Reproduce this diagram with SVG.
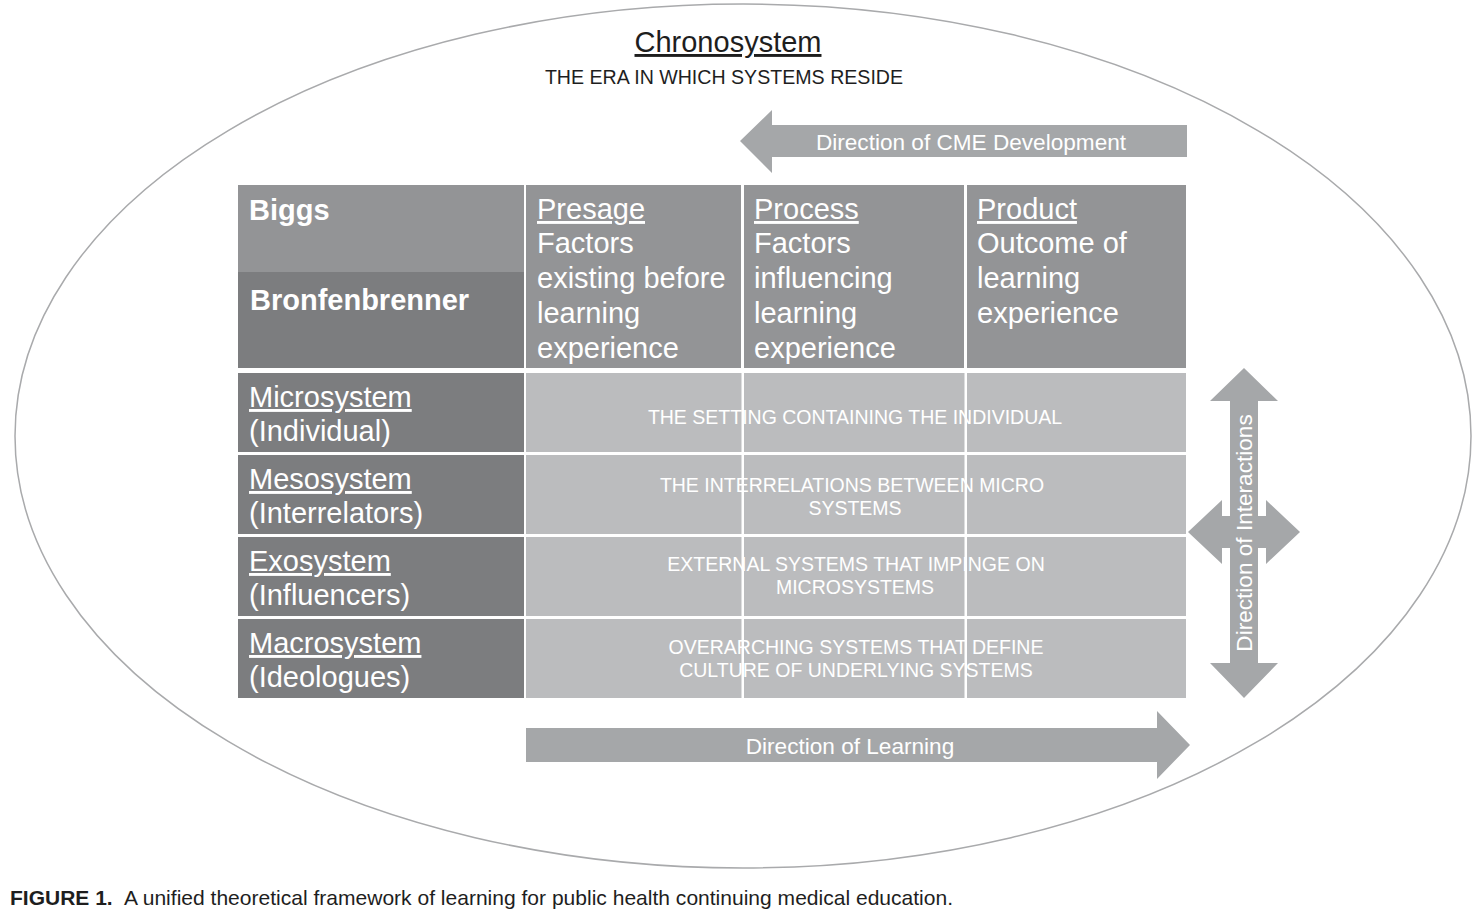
<svg xmlns="http://www.w3.org/2000/svg" width="1480" height="913" viewBox="0 0 1480 913">
<style>
text{font-family:"Liberation Sans",Arial,sans-serif;}
.hd{fill:#939496;}
.dk{fill:#7c7d7f;}
.lt{fill:#bbbcbe;}
.arr{fill:#a5a7a9;}
.w{fill:#ffffff;}
.big{font-size:29px;fill:#ffffff;}
.bold{font-size:29px;font-weight:bold;fill:#ffffff;}
.cell{font-size:19.5px;fill:#ffffff;text-anchor:middle;}
.al{font-size:22.6px;fill:#ffffff;text-anchor:middle;}
.u{text-decoration:underline;}
</style>
<rect x="0" y="0" width="1480" height="913" fill="#ffffff"/>
<g id="chronosystem">
<ellipse cx="743" cy="436" rx="728" ry="432" fill="none" stroke="#a9aaac" stroke-width="1.5"/>
<text x="728" y="52" font-size="29" fill="#1e1e1e" text-anchor="middle" text-decoration="underline">Chronosystem</text>
<text x="724" y="84" font-size="19.6" fill="#1e1e1e" text-anchor="middle">THE ERA IN WHICH SYSTEMS RESIDE</text>
</g>
<g id="connectors">
<g id="arrow-cme">
<polygon class="arr" points="740,141 772,110 772,125 1187,125 1187,157 772,157 772,173"/>
<text class="al" x="971" y="150">Direction of CME Development</text>
</g>
<g id="arrow-learning">
<polygon class="arr" points="526,728 1157,728 1157,711 1190,745 1157,779 1157,762 526,762"/>
<text class="al" x="850" y="754">Direction of Learning</text>
</g>
<g id="arrow-interactions">
<polygon class="arr" points="1244,368 1278,401 1258,401 1258,516 1266,516 1266,500 1300,532 1266,564 1266,548 1258,548 1258,663 1278,663 1244,698 1210,663 1230,663 1230,548 1222,548 1222,564 1188,532 1222,500 1222,516 1230,516 1230,401 1210,401"/>
<text class="al" transform="translate(1252,533) rotate(-90)" x="0" y="0">Direction of Interactions</text>
</g>
</g>
<g id="header-biggs">
<rect class="hd" x="238" y="185" width="286" height="87"/>
<text class="bold" x="249" y="220">Biggs</text>
</g>
<g id="header-bronfenbrenner">
<rect class="dk" x="238" y="272" width="286" height="96"/>
<text class="bold" x="250" y="310">Bronfenbrenner</text>
</g>
<g id="header-presage">
<rect class="hd" x="526" y="185" width="215" height="183"/>
<text class="big" x="537" y="219"><tspan class="u">Presage</tspan><tspan x="537" dy="34">Factors</tspan><tspan x="537" dy="35">existing before</tspan><tspan x="537" dy="35">learning</tspan><tspan x="537" dy="35">experience</tspan></text>
</g>
<g id="header-process">
<rect class="hd" x="744" y="185" width="220" height="183"/>
<text class="big" x="754" y="219"><tspan class="u">Process</tspan><tspan x="754" dy="34">Factors</tspan><tspan x="754" dy="35">influencing</tspan><tspan x="754" dy="35">learning</tspan><tspan x="754" dy="35">experience</tspan></text>
</g>
<g id="header-product">
<rect class="hd" x="967" y="185" width="219" height="183"/>
<text class="big" x="977" y="219"><tspan class="u">Product</tspan><tspan x="977" dy="34">Outcome of</tspan><tspan x="977" dy="35">learning</tspan><tspan x="977" dy="35">experience</tspan></text>
</g>
<g id="row-microsystem">
<rect class="dk" x="238" y="373" width="286" height="79"/>
<text class="big" x="249" y="407"><tspan class="u">Microsystem</tspan><tspan x="249" dy="34">(Individual)</tspan></text>
<rect class="lt" x="526" y="373" width="660" height="79"/>
<text class="cell" x="855" y="424">THE SETTING CONTAINING THE INDIVIDUAL</text>
</g>
<g id="row-mesosystem">
<rect class="dk" x="238" y="455" width="286" height="79"/>
<text class="big" x="249" y="489"><tspan class="u">Mesosystem</tspan><tspan x="249" dy="34">(Interrelators)</tspan></text>
<rect class="lt" x="526" y="455" width="660" height="79"/>
<text class="cell" x="852" y="492">THE INTERRELATIONS BETWEEN MICRO<tspan x="855" dy="23">SYSTEMS</tspan></text>
</g>
<g id="row-exosystem">
<rect class="dk" x="238" y="537" width="286" height="79"/>
<text class="big" x="249" y="571"><tspan class="u">Exosystem</tspan><tspan x="249" dy="34">(Influencers)</tspan></text>
<rect class="lt" x="526" y="537" width="660" height="79"/>
<text class="cell" x="856" y="571">EXTERNAL SYSTEMS THAT IMPINGE ON<tspan x="855" dy="23">MICROSYSTEMS</tspan></text>
</g>
<g id="row-macrosystem">
<rect class="dk" x="238" y="619" width="286" height="79"/>
<text class="big" x="249" y="653"><tspan class="u">Macrosystem</tspan><tspan x="249" dy="34">(Ideologues)</tspan></text>
<rect class="lt" x="526" y="619" width="660" height="79"/>
<text class="cell" x="856" y="654">OVERARCHING SYSTEMS THAT DEFINE<tspan x="856" dy="23">CULTURE OF UNDERLYING SYSTEMS</tspan></text>
</g>
<g id="grid-lines">
<rect class="w" x="741.5" y="373" width="2.5" height="325"/>
<rect class="w" x="964.5" y="373" width="2.5" height="325"/>
</g>
<g id="caption">
<text y="905" font-size="21" fill="#1e1e1e"><tspan x="10" font-weight="bold">FIGURE 1.</tspan><tspan x="124" textLength="829" lengthAdjust="spacingAndGlyphs">A unified theoretical framework of learning for public health continuing medical education.</tspan></text>
</g>
</svg>
